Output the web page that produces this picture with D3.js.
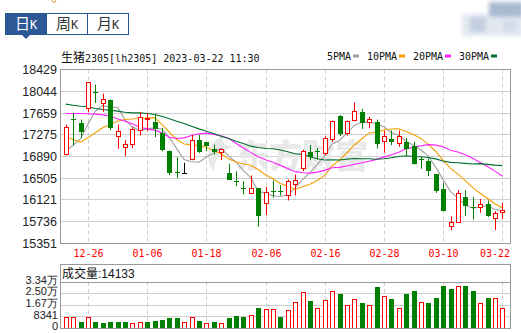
<!DOCTYPE html>
<html>
<head>
<meta charset="utf-8">
<script src="https://cdn.jsdelivr.net/npm/d3@7"></script>
<style>
body { margin: 0; background: #fff; }
svg { display: block; }
</style>
</head>
<body>
<div id="chart"></div>
<script>
// data

const dates = ['12-21','12-22','12-23','12-26','12-27','12-28','12-29','12-30','01-03','01-04',
    '01-05','01-06','01-09','01-10','01-11','01-12','01-13','01-16','01-17','01-18',
    '01-19','01-20','01-30','01-31','02-01','02-02','02-03','02-06','02-07','02-08',
    '02-09','02-10','02-13','02-14','02-15','02-16','02-17','02-20','02-21','02-22',
    '02-23','02-24','02-27','02-28','03-01','03-02','03-03','03-06','03-07','03-08',
    '03-09','03-10','03-13','03-14','03-15','03-16','03-17','03-20','03-21','03-22'];
const tickDates = ['12-26','01-06','01-18','02-06','02-16','02-28','03-10','03-22'];

const opens = [16920,17562,17486,17733,18028,17822,17898,17238,17043,17096,
    17338,17539,17503,17309,16996,16607,16595,16825,17185,17138,
    17014,16967,16601,16465,16336,16230,16324,16047,16277,16277,
    16200,16395,16684,16978,16996,16937,17191,17603,17291,17521,
    17680,17497,17503,17161,17208,17120,17155,17073,16849,16802,
    16572,16318,15646,15717,16171,15994,15994,16053,15787,15894];
const highs = [17456,17662,17544,18193,18164,18004,17898,17456,17179,17409,
    17680,17662,17645,17397,16996,16878,16778,17273,17273,17144,
    17102,17026,16760,16630,16454,16554,16324,16353,16465,16383,
    16483,16572,17014,17096,17043,17250,17527,17621,17527,17845,
    17733,17592,17544,17350,17350,17350,17220,17144,16884,16855,
    16572,16424,15834,16294,16294,16171,16141,16112,15923,16070];
const lows = [16908,17085,17220,17674,17839,17680,17356,17026,16896,17037,
    17261,17338,17232,16984,16560,16513,16583,16825,16955,16984,
    16925,16825,16471,16365,16218,16230,15646,15852,16159,16200,
    16112,16200,16630,16825,16837,16908,17144,17250,17261,17515,
    17379,17391,17031,16955,17090,17061,16908,16748,16672,16542,
    16247,15923,15587,15717,15834,15776,15894,15823,15587,15787];
const closes = [17397,17539,17320,18193,18004,17892,17397,17326,17096,17362,
    17574,17556,17379,17014,16613,16589,16595,17167,16978,17061,
    16967,17014,16483,16442,16318,16324,15834,16247,16259,16253,
    16442,16465,16978,16884,16978,17208,17509,17291,17509,17680,
    17486,17544,17120,17250,17161,17244,17031,16754,16831,16630,
    16265,15923,15717,16236,16011,15982,16041,15846,15876,15935];

const volumes = [7738,7738,4352,7738,4352,3627,4352,4352,4352,3385,
    4111,4352,5078,5803,7254,7254,4111,7738,5078,3385,
    4352,3385,7254,8705,7979,9188,14508,13541,13541,7979,
    12815,18619,25873,19586,14508,20069,26598,24664,16442,20795,
    18135,16442,29741,22971,21037,14266,24664,26840,18619,18135,
    21762,30467,28291,30467,30467,26840,17893,21762,21762,14133];

const ma5 = [16980,17090,17200,17460,17691,17790,17761,17762,17543,17415,
    17351,17383,17393,17377,17227,17030,16838,16796,16788,16878,
    16954,17037,16901,16793,16645,16516,16280,16233,16196,16183,
    16207,16333,16479,16604,16749,16903,17111,17174,17299,17439,
    17495,17502,17468,17416,17312,17264,17161,17088,17004,16898,
    16702,16481,16273,16154,16030,15974,15997,16023,15951,15936];
const ma10 = [17238,17191,17144,17220,17309,17397,17456,17515,17544,17553,
    17570,17572,17578,17460,17321,17191,17110,17095,17083,17053,
    16992,16938,16848,16791,16761,16735,16659,16567,16495,16414,
    16362,16307,16356,16400,16466,16555,16722,16827,16952,17094,
    17199,17307,17321,17358,17376,17379,17332,17278,17210,17105,
    16983,16821,16681,16579,16464,16338,16239,16148,16053,15983];
const ma20 = [17651,17651,17651,17645,17639,17627,17603,17556,17515,17468,
    17409,17379,17356,17309,17232,17208,17220,17261,17291,17303,
    17281,17255,17213,17125,17041,16963,16885,16831,16789,16733,
    16677,16622,16602,16596,16614,16645,16691,16697,16723,16754,
    16780,16807,16839,16879,16921,16967,17027,17052,17081,17100,
    17091,17064,17001,16968,16920,16859,16785,16713,16631,16544];
const ma30 = [17816,17798,17780,17769,17739,17721,17710,17692,17674,17662,
    17662,17651,17633,17603,17556,17515,17474,17427,17379,17338,
    17297,17250,17208,17161,17120,17073,17049,17032,17026,17006,
    16975,16939,16927,16884,16850,16827,16831,16829,16843,16854,
    16851,16850,16842,16850,16868,16890,16904,16890,16886,16871,
    16848,16811,16786,16779,16769,16757,16764,16751,16738,16728];

const priceTicks = [15351,15736,16121,16505,16890,17275,17659,18044,18429];
const volTicks = [0,8341,16682,25023,33364];

const title = '2305[lh2305] 2023-03-22 11:30';
const tabs = ['日','周','月'];
const maNames = ['5PMA','10PMA','20PMA','30PMA'];

// constants
const W = 521, H = 333;
const red = '#ff0000', green = '#008000';
const gridColor = '#cfcfcf', frameColor = '#999';
const blue = '#2d5896';
const maColors = ['#a0a0a0', '#f5a000', '#ff20ff', '#006f2e'];
const mono = '"DejaVu Sans Mono", monospace';
const sans = '"Liberation Sans", Arial, sans-serif';
const cjk = '"Noto Sans CJK SC", sans-serif';

const main = {left: 60.5, right: 510.5, top: 69.5, bottom: 243.5};
const vol = {left: 60.5, right: 510.5, top: 264.5, head: 282, bottom: 328.5};

const svg = d3.select('#chart')
    .append('svg')
    .attr('width', W)
    .attr('height', H);

// scales
let x = d3.scaleBand()
    .domain(d3.range(dates.length))
    .range([62, 506]);
const cx = i => Math.round(x(i) + x.bandwidth() / 2) + 0.5;

let y = d3.scaleLinear()
    .domain([15351, 18429])
    .range([main.bottom, main.top]);

let yv = d3.scaleLinear()
    .domain([0, 33364])
    .range([vol.bottom, vol.head]);

const snap = v => Math.round(v - 0.5) + 0.5;

// tabs
const tabG = svg.append('g');
tabs.forEach(function(t, i) {
    let tx = 5.5 + i * 41;
    tabG.append('rect')
        .attr('x', tx).attr('y', 13.5)
        .attr('width', 41).attr('height', 21)
        .attr('fill', i === 0 ? blue : '#fff')
        .attr('stroke', blue);
    let label = tabG.append('text')
        .attr('x', tx + 20.5).attr('y', 29)
        .attr('text-anchor', 'middle')
        .attr('fill', i === 0 ? '#fff' : '#333');
    label.append('tspan').style('font-family', cjk).style('font-size', '15px').text(t);
    label.append('tspan').style('font-family', mono).style('font-size', '12px').text('K');
});
tabG.append('path')
    .attr('d', 'M22,35 L30,35 L26,39 Z')
    .attr('fill', blue);

// little mark at the top and the blurred picture at the top right
svg.append('circle').attr('cx', 54).attr('cy', 0.5).attr('r', 1.8)
    .attr('fill', 'none').attr('stroke', '#e39b3a');
let defs = svg.append('defs');
defs.append('filter').attr('id', 'blur')
    .append('feGaussianBlur').attr('stdDeviation', 2);
let blurG = svg.append('g').attr('filter', 'url(#blur)');
blurG.append('rect').attr('x', 462).attr('y', 14).attr('width', 62).attr('height', 22).attr('fill', '#e3e8f0');
blurG.append('rect').attr('x', 489).attr('y', 2).attr('width', 34).attr('height', 15).attr('fill', '#a9b9d1');
blurG.append('rect').attr('x', 470).attr('y', 17).attr('width', 16).attr('height', 15).attr('fill', '#c3cfe1');
blurG.append('rect').attr('x', 503).attr('y', 20).attr('width', 14).attr('height', 12).attr('fill', '#d2dbe8');

// header line
let head = svg.append('text')
    .attr('x', 61).attr('y', 62)
    .attr('fill', '#111');
head.append('tspan').style('font-family', cjk).style('font-size', '12px').text('生猪');
head.append('tspan').style('font-family', mono).style('font-size', '10px').text(title);

// legend
let lx = 327;
maNames.forEach(function(n, i) {
    svg.append('text')
        .attr('x', lx).attr('y', 60)
        .style('font-family', mono).style('font-size', '10px')
        .attr('fill', '#111')
        .text(n);
    lx += n.length * 6 + 2;
    svg.append('rect')
        .attr('x', lx).attr('y', 54.5)
        .attr('width', 6).attr('height', 3)
        .attr('fill', maColors[i]);
    lx += 14;
});

// main grid
svg.append('g')
    .selectAll('line')
    .data(priceTicks)
    .enter()
    .append('line')
    .attr('x1', main.left).attr('x2', main.right)
    .attr('y1', d => snap(y(d))).attr('y2', d => snap(y(d)))
    .attr('stroke', gridColor);

const tickIdx = dates.map((d, i) => i).filter(i => tickDates.includes(dates[i]));

svg.append('g')
    .selectAll('line')
    .data(tickIdx)
    .enter()
    .append('line')
    .attr('x1', d => cx(d)).attr('x2', d => cx(d))
    .attr('y1', main.top).attr('y2', main.bottom)
    .attr('stroke', gridColor)
    .attr('stroke-dasharray', '4,3');

// watermark
let wm = svg.append('g').attr('fill', '#e8e8e8');
wm.append('path')
    .attr('d', 'M226,134 C206,142 204,160 214,171 C214,158 222,150 236,146 C224,146 219,141 226,134 Z');
wm.append('text')
    .attr('x', 236).attr('y', 168)
    .style('font-family', cjk).style('font-size', '33px').style('font-weight', 900)
    .text('东方财富');

// price labels
svg.append('g')
    .selectAll('text')
    .data(priceTicks)
    .enter()
    .append('text')
    .attr('x', 57).attr('y', d => y(d))
    .attr('dy', '0.36em')
    .attr('text-anchor', 'end')
    .style('font-family', sans).style('font-size', '12.5px')
    .attr('fill', '#222')
    .text(d => d);

// date labels
svg.append('g')
    .selectAll('text')
    .data(tickIdx)
    .enter()
    .append('text')
    .attr('x', d => Math.min(cx(d), 495))
    .attr('y', 257)
    .attr('text-anchor', 'middle')
    .style('font-family', mono).style('font-size', '10px')
    .attr('fill', red)
    .text(d => dates[d]);

// moving averages
[ma5, ma10, ma20, ma30].forEach(function(ma, k) {
    let line = d3.line()
        .x((d, i) => x(i) + x.bandwidth() / 2)
        .y(d => y(d));
    svg.append('path')
        .datum(ma)
        .attr('d', line)
        .attr('fill', 'none')
        .attr('stroke', maColors[k])
        .attr('stroke-width', 1.1);
});

// candles
const candles = dates.map((d, i) => ({i: i, o: opens[i], h: highs[i], l: lows[i], c: closes[i]}));
const cColor = d => d.c > d.o ? red : (d.c < d.o ? green : '#000');

let cg = svg.append('g');
cg.selectAll('line')
    .data(candles)
    .enter()
    .append('line')
    .attr('x1', d => cx(d.i)).attr('x2', d => cx(d.i))
    .attr('y1', d => y(d.h)).attr('y2', d => y(d.l))
    .attr('stroke', cColor);

cg.selectAll('rect')
    .data(candles)
    .enter()
    .append('rect')
    .each(function(d) {
        let top = y(Math.max(d.o, d.c)), bot = y(Math.min(d.o, d.c));
        let r = d3.select(this);
        if (d.c > d.o) {
            r.attr('x', cx(d.i) - 2).attr('width', 4)
                .attr('y', snap(top)).attr('height', Math.max(1, Math.round(bot - top)))
                .attr('fill', '#fff').attr('stroke', red);
        } else {
            r.attr('x', cx(d.i) - 2.5).attr('width', 5)
                .attr('y', Math.round(top)).attr('height', Math.max(1, Math.round(bot - top)))
                .attr('fill', cColor(d));
        }
    });

// main frame
svg.append('rect')
    .attr('x', main.left).attr('y', main.top)
    .attr('width', main.right - main.left).attr('height', main.bottom - main.top)
    .attr('fill', 'none').attr('stroke', frameColor);

// volume panel
svg.append('g')
    .selectAll('line')
    .data(volTicks.slice(1, 4))
    .enter()
    .append('line')
    .attr('x1', vol.left).attr('x2', vol.right)
    .attr('y1', d => snap(yv(d))).attr('y2', d => snap(yv(d)))
    .attr('stroke', gridColor);

svg.append('g')
    .selectAll('line')
    .data(tickIdx)
    .enter()
    .append('line')
    .attr('x1', d => cx(d)).attr('x2', d => cx(d))
    .attr('y1', vol.head).attr('y2', vol.bottom)
    .attr('stroke', gridColor)
    .attr('stroke-dasharray', '4,3');

// volume colour follows close against previous close
const vUp = (d, i) => i === 0 || closes[i] >= closes[i - 1];

svg.append('g')
    .selectAll('rect')
    .data(volumes)
    .enter()
    .append('rect')
    .each(function(d, i) {
        let r = d3.select(this);
        let top = yv(d);
        if (vUp(d, i)) {
            r.attr('x', cx(i) - 2).attr('width', 4)
                .attr('y', snap(top)).attr('height', vol.bottom - snap(top))
                .attr('fill', '#fff').attr('stroke', red);
        } else {
            r.attr('x', cx(i) - 2.5).attr('width', 5)
                .attr('y', Math.round(top)).attr('height', vol.bottom - Math.round(top))
                .attr('fill', green);
        }
    });

svg.append('line')
    .attr('x1', vol.left).attr('x2', vol.right)
    .attr('y1', vol.head + 0.5).attr('y2', vol.head + 0.5)
    .attr('stroke', frameColor);
svg.append('rect')
    .attr('x', vol.left).attr('y', vol.top)
    .attr('width', vol.right - vol.left).attr('height', vol.bottom - vol.top)
    .attr('fill', 'none').attr('stroke', frameColor);

let vh = svg.append('text')
    .attr('x', 62).attr('y', 278)
    .attr('fill', '#111');
vh.append('tspan').style('font-family', cjk).style('font-size', '12px').text('成交量');
vh.append('tspan').style('font-family', sans).style('font-size', '12px')
    .text(':' + volumes[volumes.length - 1]);

const volFmt = v => v >= 10000 ? (v / 10000).toFixed(2) + '万' : String(v);
svg.append('g')
    .selectAll('text')
    .data(volTicks)
    .enter()
    .append('text')
    .attr('x', 58).attr('y', d => yv(d) - 2)
    .attr('dy', '0.34em')
    .attr('text-anchor', 'end')
    .style('font-family', sans).style('font-size', '11px')
    .attr('fill', '#222')
    .text(volFmt);
</script>
</body>
</html>
